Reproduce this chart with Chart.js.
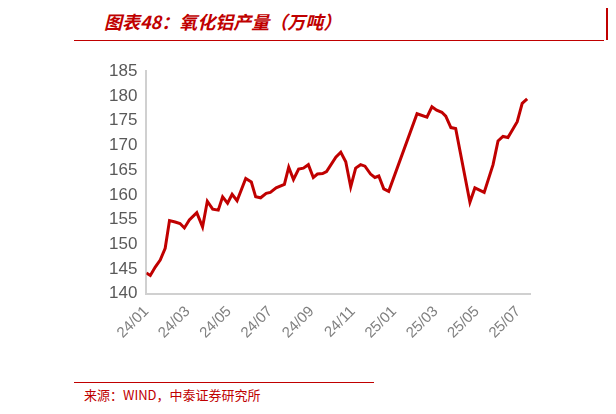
<!DOCTYPE html>
<html lang="zh">
<head>
<meta charset="UTF-8">
<script src="https://cdn.jsdelivr.net/npm/chart.js"></script>
<style>
  body { margin: 0; width: 616px; height: 414px; background: #fff; position: relative; overflow: hidden; font-family: "Noto Sans CJK SC", sans-serif; }
  #title { position: absolute; left: 104px; top: 8px; color: #c00000; font-size: 18px; font-weight: bold; font-style: italic; }
  #topline { position: absolute; left: 74px; top: 40px; width: 530px; height: 1px; background: #c00000; }
  #rightbar { position: absolute; left: 606px; top: 8px; width: 2px; height: 32px; background: #c00000; }
  #footline { position: absolute; left: 74px; top: 382px; width: 300px; height: 1px; background: #c00000; }
  #source { position: absolute; left: 84px; top: 385px; color: #c00000; font-size: 13px; }
  #wrap { position: absolute; left: 106px; top: 58px; width: 428px; height: 287px; }
</style>
</head>
<body>
<div id="title">图表48：氧化铝产量（万吨）</div>
<div id="topline"></div>
<div id="rightbar"></div>
<div id="wrap"><canvas id="c"></canvas></div>
<div id="footline"></div>
<div id="source">来源：WIND，中泰证券研究所</div>
<script>
// months since 2024-01
const months = [0.0,0.19,0.43,0.67,0.91,1.12,1.39,1.63,1.84,2.08,2.44,2.72,2.95,3.21,3.48,3.69,3.93,4.15,4.39,4.81,5.08,5.29,5.53,5.80,6.0,6.28,6.68,6.89,7.12,7.37,7.6,7.84,8.08,8.28,8.53,8.72,9.17,9.41,9.65,9.89,10.13,10.37,10.58,10.85,11.06,11.25,11.49,11.73,13.1,13.58,13.82,14.05,14.3,14.49,14.74,14.97,15.66,15.9,16.35,16.78,17.02,17.26,17.5,17.95,18.19,18.43];
const output = [144.2,143.7,145.4,146.8,149.2,154.8,154.5,154.2,153.3,154.9,156.4,153.5,158.7,157.1,156.9,159.6,158.3,160.1,158.8,163.3,162.6,159.6,159.4,160.3,160.5,161.4,162.1,165.6,163.1,165.2,165.4,166.1,163.5,164.2,164.3,164.7,167.6,168.6,166.7,161.6,165.4,166.1,165.8,164.2,163.5,163.8,161.2,160.7,176.4,175.7,177.8,177.1,176.7,175.9,173.6,173.4,158.5,161.4,160.5,166.1,170.9,171.8,171.6,174.8,178.5,179.4];
const tickLabels = ['24/01','24/03','24/05','24/07','24/09','24/11','25/01','25/03','25/05','25/07'];

new Chart(document.getElementById('c'), {
  type: 'line',
  data: {
    datasets: [{
      data: months.map((m, i) => ({ x: m, y: output[i] })),
      borderColor: '#c00000',
      borderWidth: 3,
      pointRadius: 0,
      tension: 0
    }]
  },
  options: {
    responsive: true,
    maintainAspectRatio: false,
    animation: false,
    plugins: { legend: { display: false }, tooltip: { enabled: false } },
    scales: {
      x: {
        type: 'linear', min: 0, max: 18.6,
        grid: { display: false, drawTicks: true, tickLength: 6, tickColor: '#d0d0d0' },
        border: { color: '#d0d0d0', width: 2 },
        afterBuildTicks: ax => { ax.ticks = tickLabels.map((_, i) => ({ value: i * 2 })); },
        ticks: {
          maxRotation: 45, minRotation: 45, autoSkip: false,
          color: '#808080', font: { size: 15, family: 'Liberation Sans' },
          callback: v => tickLabels[v / 2]
        }
      },
      y: {
        min: 140, max: 185,
        grid: { display: false, drawTicks: true, tickLength: 6, tickColor: '#d0d0d0' },
        border: { color: '#d0d0d0', width: 2 },
        ticks: { stepSize: 5, color: '#595959', font: { size: 17, family: 'Liberation Sans' } }
      }
    }
  }
});
</script>
</body>
</html>
